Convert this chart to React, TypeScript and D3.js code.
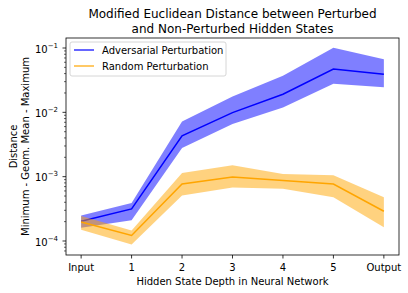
import React from 'react';
import * as d3 from 'd3';

const categories = ['Input', '1', '2', '3', '4', '5', 'Output'];

const advMean = [2.03e-4, 3.15e-4, 4.3e-3, 9.9e-3, 1.91e-2, 4.7e-2, 3.9e-2];
const advMin = [1.6e-4, 2.1e-4, 2.8e-3, 6.6e-3, 1.19e-2, 2.77e-2, 2.46e-2];
const advMax = [2.5e-4, 3.9e-4, 7.2e-3, 1.76e-2, 3.7e-2, 1.01e-1, 6.68e-2];

const rndMean = [1.98e-4, 1.22e-4, 7.7e-4, 9.9e-4, 8.7e-4, 7.7e-4, 2.9e-4];
const rndMin = [1.5e-4, 8.8e-5, 5.1e-4, 6.8e-4, 6.5e-4, 4.8e-4, 1.64e-4];
const rndMax = [2.45e-4, 1.45e-4, 1.14e-3, 1.5e-3, 1.1e-3, 1.05e-3, 4.8e-4];

const yMajor = [-4, -3, -2, -1];

const W = 408, H = 293;
const m = { left: 66, right: 399, top: 38, bottom: 255 };
const font = 'DejaVu Sans, sans-serif';

export default function App() {
  const x = d3.scaleLinear().domain([-0.3, 6.3]).range([m.left, m.right]);
  const y = d3.scaleLog().domain([Math.pow(10, -4.2176), Math.pow(10, -0.8445)]).range([m.bottom, m.top]);

  const idx = categories.map((_, i) => i);
  const area = (lo: number[], hi: number[]) =>
    d3.area<number>().x(i => x(i)).y0(i => y(lo[i])).y1(i => y(hi[i]))(idx) || '';
  const line = (v: number[]) => d3.line<number>().x(i => x(i)).y(i => y(v[i]))(idx) || '';

  // minor log ticks 2..9 inside the visible range
  const minor: number[] = [];
  for (let e = -5; e <= -1; e++) {
    for (let k = 2; k <= 9; k++) {
      const v = k * Math.pow(10, e);
      const py = y(v);
      if (py >= m.top && py <= m.bottom) minor.push(v);
    }
  }

  const cx = (m.left + m.right) / 2;
  const cy = (m.top + m.bottom) / 2;

  return (
    <svg width={W} height={H} style={{ position: 'absolute', left: 0, top: 0, background: '#fff' }} fontFamily={font}>
      <rect width={W} height={H} fill="#fff" />
      <path d={area(advMin, advMax)} fill="#0000ff" fillOpacity={0.5} />
      <path d={line(advMean)} fill="none" stroke="#0000ff" strokeWidth={1.5} />
      <path d={area(rndMin, rndMax)} fill="#ffa500" fillOpacity={0.5} />
      <path d={line(rndMean)} fill="none" stroke="#ffa500" strokeWidth={1.5} />

      <rect x={m.left} y={m.top} width={m.right - m.left} height={m.bottom - m.top} fill="none" stroke="#000" strokeWidth={0.8} />

      {categories.map((c, i) => (
        <g key={c}>
          <line x1={x(i)} x2={x(i)} y1={m.bottom} y2={m.bottom + 3.5} stroke="#000" strokeWidth={0.8} />
          <text x={x(i)} y={m.bottom + 16} fontSize={10} textAnchor="middle">{c}</text>
        </g>
      ))}

      {minor.map(v => (
        <line key={v} x1={m.left - 2} x2={m.left} y1={y(v)} y2={y(v)} stroke="#000" strokeWidth={0.6} />
      ))}
      {yMajor.map(e => (
        <g key={e}>
          <line x1={m.left - 3.5} x2={m.left} y1={y(Math.pow(10, e))} y2={y(Math.pow(10, e))} stroke="#000" strokeWidth={0.8} />
          <text x={m.left - 8} y={y(Math.pow(10, e)) + 4.5} fontSize={10} textAnchor="end">
            10<tspan dy={-5} fontSize={7}>{'\u2212' + Math.abs(e)}</tspan>
          </text>
        </g>
      ))}

      <text x={cx} y={285} fontSize={10} textAnchor="middle">Hidden State Depth in Neural Network</text>
      <g transform={`translate(17,${cy}) rotate(-90)`}>
        <text x={0} y={0} fontSize={10} textAnchor="middle">Distance</text>
        <text x={0} y={12} fontSize={10} textAnchor="middle">Minimum - Geom. Mean - Maximum</text>
      </g>

      <text x={cx} y={18} fontSize={12} textAnchor="middle">Modified Euclidean Distance between Perturbed</text>
      <text x={cx} y={33} fontSize={12} textAnchor="middle">and Non-Perturbed Hidden States</text>

      <g>
        <rect x={70} y={42} width={156} height={34} rx={2} fill="#fff" fillOpacity={0.8} stroke="#ccc" strokeWidth={0.8} />
        <line x1={74} x2={94} y1={50} y2={50} stroke="#0000ff" strokeWidth={1.5} strokeOpacity={0.8} />
        <text x={102} y={54} fontSize={10}>Adversarial Perturbation</text>
        <line x1={74} x2={94} y1={66} y2={66} stroke="#ffa500" strokeWidth={1.5} strokeOpacity={0.8} />
        <text x={102} y={70} fontSize={10}>Random Perturbation</text>
      </g>
    </svg>
  );
}
